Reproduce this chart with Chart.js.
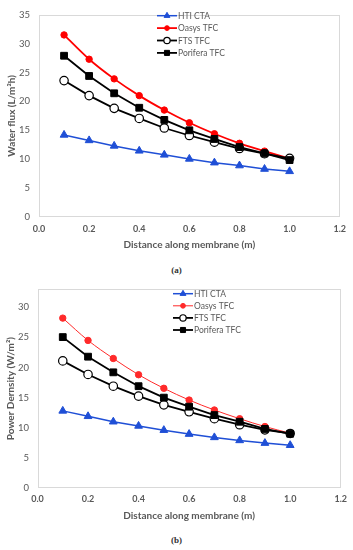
<!DOCTYPE html>
<html><head><meta charset="utf-8">
<script src="https://cdn.jsdelivr.net/npm/chart.js@4/dist/chart.umd.min.js"></script>
<style>
html,body{margin:0;padding:0;background:#fff;}
body{width:353px;height:550px;position:relative;overflow:hidden;}
canvas{position:absolute;left:0;}
#ca{top:0;}
#cb{top:275px;}
.cap{position:absolute;left:0;width:353px;text-align:center;font-family:"Liberation Serif",serif;font-weight:bold;font-size:9px;color:#333;z-index:2;}
</style></head>
<body>
<canvas id="ca" width="353" height="256"></canvas>
<canvas id="cb" width="353" height="255"></canvas>
<div class="cap" style="top:265px">(a)</div>
<div class="cap" style="top:535px">(b)</div>
<script>
const distance = [0.1, 0.2, 0.3, 0.4, 0.5, 0.6, 0.7, 0.8, 0.9, 1.0];
const seriesNames = ['HTI CTA', 'Oasys TFC', 'FTS TFC', 'Porifera TFC'];

const fluxHTI      = [14.2, 13.25, 12.3, 11.45, 10.75, 10.05, 9.4, 8.9, 8.3, 7.9];
const fluxOasys    = [31.5, 27.3, 23.9, 21.0, 18.5, 16.3, 14.4, 12.75, 11.4, 10.1];
const fluxFTS      = [23.6, 21.0, 18.8, 17.05, 15.4, 14.1, 12.95, 11.85, 10.95, 10.15];
const fluxPorifera = [27.9, 24.4, 21.4, 18.9, 16.8, 15.0, 13.5, 12.1, 11.0, 9.85];

const powerHTI      = [12.8, 11.9, 11.0, 10.3, 9.6, 8.95, 8.4, 7.9, 7.45, 7.1];
const powerOasys    = [28.2, 24.5, 21.5, 18.8, 16.55, 14.6, 12.95, 11.5, 10.2, 9.1];
const powerFTS      = [21.1, 18.85, 16.9, 15.25, 13.8, 12.65, 11.5, 10.5, 9.65, 9.05];
const powerPorifera = [25.05, 21.8, 19.2, 16.9, 15.0, 13.5, 12.1, 11.0, 9.8, 9.0];

const xTicks = [0.0, 0.2, 0.4, 0.6, 0.8, 1.0, 1.2];
const fluxYTicks = [0, 5, 10, 15, 20, 25, 30, 35];
const powerYTicks = [0, 5, 10, 15, 20, 25, 30];

const FONT = 'Lato, "Liberation Sans", sans-serif';
const GREY = '#595959';

function pts(vals) { return distance.map((x, i) => ({x: x, y: vals[i]})); }

function styles(redWidth, redColor) {
  return [
    {color: '#1f4fd6', style: 'triangle', r: 4.5, bw: 1, fill: '#1f4fd6', lw: 1.5, order: 4},
    {color: redColor, style: 'circle', r: 3.2, bw: 1, fill: redColor, lw: redWidth, order: 3, tension: true},
    {color: '#000000', style: 'circle', r: 4.2, bw: 1.2, fill: '#ffffff', lw: 1.8, order: 2},
    {color: '#000000', style: 'rect', r: 4.8, bw: 1, fill: '#000000', lw: 1.8, order: 1}
  ];
}

function makeDatasets(series, st) {
  return series.map((vals, i) => {
    const s = st[i];
    return {
      label: seriesNames[i],
      data: pts(vals),
      borderColor: s.color,
      backgroundColor: s.fill,
      borderWidth: s.lw,
      pointStyle: s.style,
      pointRadius: s.r,
      pointBorderWidth: s.bw,
      pointBorderColor: s.color,
      pointBackgroundColor: s.fill,
      cubicInterpolationMode: s.tension ? 'monotone' : 'default',
      order: s.order,
      clip: false
    };
  });
}

function drawMarker(ctx, style, x, y, r, fill, stroke, bw) {
  ctx.save();
  ctx.beginPath();
  if (style === 'circle') {
    ctx.arc(x, y, r, 0, Math.PI * 2);
  } else if (style === 'rect') {
    const h = Math.SQRT1_2 * r;
    ctx.rect(x - h, y - h, 2 * h, 2 * h);
  } else if (style === 'triangle') {
    ctx.moveTo(x, y - r);
    ctx.lineTo(x + r * 0.866, y + r * 0.5);
    ctx.lineTo(x - r * 0.866, y + r * 0.5);
    ctx.closePath();
  }
  ctx.fillStyle = fill; ctx.fill();
  ctx.lineWidth = bw; ctx.strokeStyle = stroke; ctx.stroke();
  ctx.restore();
}

const framePlugin = {
  id: 'frame',
  beforeDatasetsDraw(chart) {
    const a = chart.chartArea, ctx = chart.ctx;
    ctx.save();
    ctx.strokeStyle = '#d9d9d9';
    ctx.lineWidth = 1;
    ctx.strokeRect(Math.round(a.left) + 0.5, Math.round(a.top) + 0.5,
                   Math.round(a.right - a.left) - 1, Math.round(a.bottom - a.top) - 1);
    ctx.restore();
  }
};

const legendPlugin = {
  id: 'inlegend',
  afterDraw(chart, args, opts) {
    const ctx = chart.ctx;
    const ds = chart.data.datasets;
    ctx.save();
    ctx.font = '8.5px ' + FONT;
    ctx.textBaseline = 'middle';
    ds.forEach((d, i) => {
      const y = opts.y + i * opts.dy;
      ctx.beginPath();
      ctx.moveTo(opts.x, y); ctx.lineTo(opts.x + opts.len, y);
      ctx.strokeStyle = d.borderColor; ctx.lineWidth = d.borderWidth;
      ctx.stroke();
      drawMarker(ctx, d.pointStyle, opts.x + opts.len / 2, y, d.pointRadius * 0.75,
                 d.pointBackgroundColor, d.pointBorderColor, d.pointBorderWidth);
      ctx.fillStyle = GREY;
      ctx.fillText(d.label, opts.x + opts.len + 1, y + 0.5);
    });
    ctx.restore();
  }
};

function makeChart(id, series, st, yTicks, yMax, yTitle, layout, legend) {
  return new Chart(document.getElementById(id), {
    type: 'line',
    data: {datasets: makeDatasets(series, st)},
    plugins: [framePlugin, legendPlugin],
    options: {
      responsive: false,
      animation: false,
      devicePixelRatio: 1,
      layout: {padding: layout.padding},
      plugins: {legend: {display: false}, tooltip: {enabled: false}, inlegend: legend},
      scales: {
        x: {
          type: 'linear', min: 0, max: 1.2,
          grid: {display: false, drawTicks: false},
          border: {display: false},
          afterBuildTicks: s => { s.ticks = xTicks.map(v => ({value: v})); },
          ticks: {
            color: GREY, padding: layout.xPad,
            font: {family: FONT, size: 9, weight: 'bold'},
            callback: v => Number(v).toFixed(1), maxRotation: 0
          },
          title: {display: true, text: 'Distance along membrane (m)', color: GREY,
                  font: {family: FONT, size: 10, weight: 'bold'},
                  padding: {top: 0, bottom: layout.xTitlePb}},
          afterFit: s => { s.height = layout.xH; }
        },
        y: {
          type: 'linear', min: 0, max: yMax,
          grid: {display: false, drawTicks: false},
          border: {display: false},
          afterBuildTicks: s => { s.ticks = yTicks.map(v => ({value: v})); },
          ticks: {color: GREY, padding: layout.yPad, font: {family: FONT, size: 9.5}},
          title: {display: true, text: yTitle, color: GREY,
                  font: {family: FONT, size: 10, weight: 'bold'},
                  padding: {top: layout.yTitlePt, bottom: 0}},
          afterFit: s => { s.width = layout.yW; }
        }
      }
    }
  });
}

makeChart('ca', [fluxHTI, fluxOasys, fluxFTS, fluxPorifera], styles(1.8, '#ff0000'),
  fluxYTicks, 35, 'Water flux (L/m\u00B2h)',
  {padding: {top: 8, right: 12, left: 0, bottom: 0}, xH: 39, xPad: 7, xTitlePb: 5, yPad: 9, yW: 39, yTitlePt: 6},
  {x: 157, y: 15.7, dy: 12.4, len: 20});

makeChart('cb', [powerHTI, powerOasys, powerFTS, powerPorifera], styles(1.0, '#ff2a2a'),
  powerYTicks, 33, 'Power Dernsity (W/m\u00B2)',
  {padding: {top: 12, right: 12, left: 0, bottom: 0}, xH: 42, xPad: 6, xTitlePb: 8, yPad: 8.5, yW: 37.5, yTitlePt: 5},
  {x: 173, y: 18.7, dy: 12.1, len: 20});
</script>
</body></html>
